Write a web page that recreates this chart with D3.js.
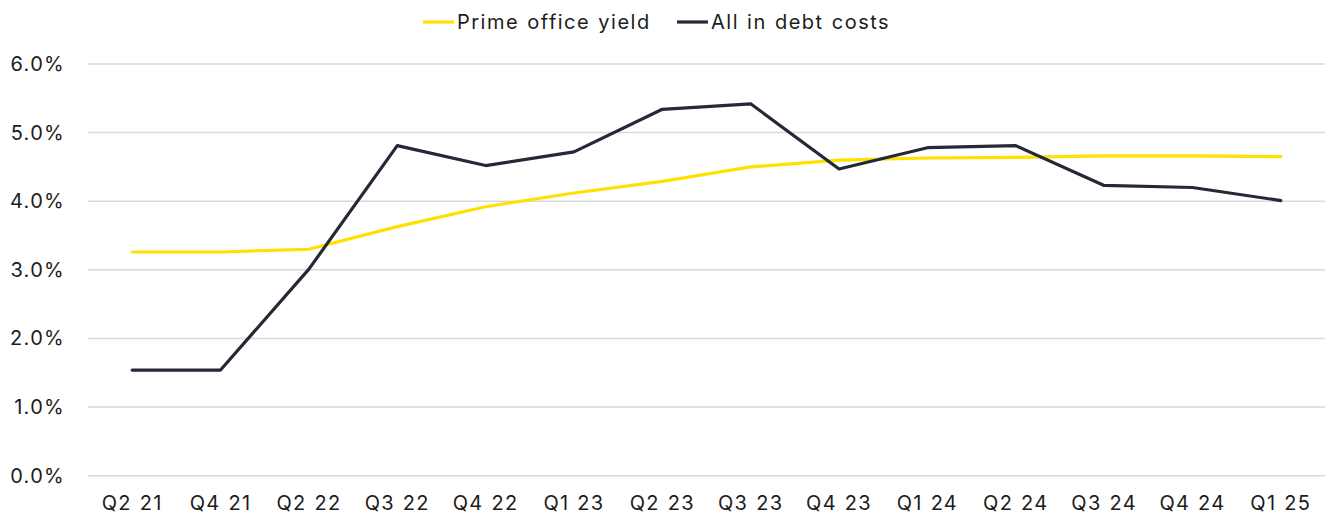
<!DOCTYPE html>
<html>
<head>
<meta charset="utf-8">
<script src="https://cdn.jsdelivr.net/npm/d3@7"></script>
<style>
  html, body { margin: 0; padding: 0; background: #fff; }
  svg { display: block; }
  text { font-family: "Inter", "Noto Sans", sans-serif; fill: #1c1c1c; }
</style>
</head>
<body>
<svg id="chart" width="1330" height="517"></svg>
<script>
// Quarterly observations
const quarters = ["Q2 21", "Q4 21", "Q2 22", "Q3 22", "Q4 22", "Q1 23", "Q2 23", "Q3 23",
                  "Q4 23", "Q1 24", "Q2 24", "Q3 24", "Q4 24", "Q1 25"];
const primeOfficeYield = [3.26, 3.26, 3.30, 3.63, 3.92, 4.12, 4.29, 4.50, 4.60, 4.63, 4.64, 4.66, 4.66, 4.65];
const allInDebtCosts   = [1.54, 1.54, 3.01, 4.81, 4.52, 4.72, 5.34, 5.42, 4.47, 4.78, 4.81, 4.23, 4.20, 4.01];
const yTicks = [0, 1, 2, 3, 4, 5, 6];

const seriesList = [
  { name: "Prime office yield", values: primeOfficeYield, color: "#FFE000" },
  { name: "All in debt costs",  values: allInDebtCosts,   color: "#262838" }
];

const svg = d3.select("#chart");
const margin = { left: 88, right: 5, top: 64, bottom: 41.3 };
const W = 1330, H = 517;

const x = d3.scaleBand().domain(quarters).range([margin.left, W - margin.right]);
const y = d3.scaleLinear().domain([0, 6]).range([H - margin.bottom, margin.top]);

// Horizontal gridlines
svg.append("g")
  .selectAll("line")
  .data(yTicks)
  .join("line")
  .attr("x1", margin.left)
  .attr("x2", W - margin.right)
  .attr("y1", d => y(d))
  .attr("y2", d => y(d))
  .attr("stroke", "#d9d9d9")
  .attr("stroke-width", 1.5);

const styleLabels = g => g.selectAll("text")
  .attr("font-size", 20)
  .attr("font-family", null)
  .attr("fill", "#1c1c1c")
  .attr("letter-spacing", 1.3)
  .attr("word-spacing", 1);

// Y axis labels
const yAxis = d3.axisLeft(y).tickValues(yTicks).tickFormat(d => d.toFixed(1) + "%").tickSize(0).tickPadding(23);
svg.append("g")
  .attr("transform", `translate(${margin.left},0)`)
  .call(yAxis)
  .call(g => g.select(".domain").remove())
  .call(styleLabels);

// X axis labels
const xAxis = d3.axisBottom(x).tickSize(0).tickPadding(20);
svg.append("g")
  .attr("transform", `translate(0,${y(0)})`)
  .call(xAxis)
  .call(g => g.select(".domain").remove())
  .call(styleLabels);

// Series lines
const line = d3.line()
  .x((d, i) => x(quarters[i]) + x.bandwidth() / 2)
  .y(d => y(d));

svg.append("g")
  .selectAll("path")
  .data(seriesList)
  .join("path")
  .attr("d", s => line(s.values))
  .attr("fill", "none")
  .attr("stroke", s => s.color)
  .attr("stroke-width", 3.2)
  .attr("stroke-linejoin", "round")
  .attr("stroke-linecap", "round");

// Legend
const legendX = [423, 677];
const legend = svg.append("g")
  .selectAll("g")
  .data(seriesList)
  .join("g")
  .attr("transform", (s, i) => `translate(${legendX[i]},22)`);
legend.append("line")
  .attr("x1", 0).attr("x2", 31)
  .attr("stroke", s => s.color)
  .attr("stroke-width", 3.2);
legend.append("text")
  .attr("x", 34)
  .attr("dy", "0.35em")
  .attr("font-size", 20)
  .attr("letter-spacing", 1.5)
  .attr("word-spacing", 1)
  .text(s => s.name);
</script>
</body>
</html>
